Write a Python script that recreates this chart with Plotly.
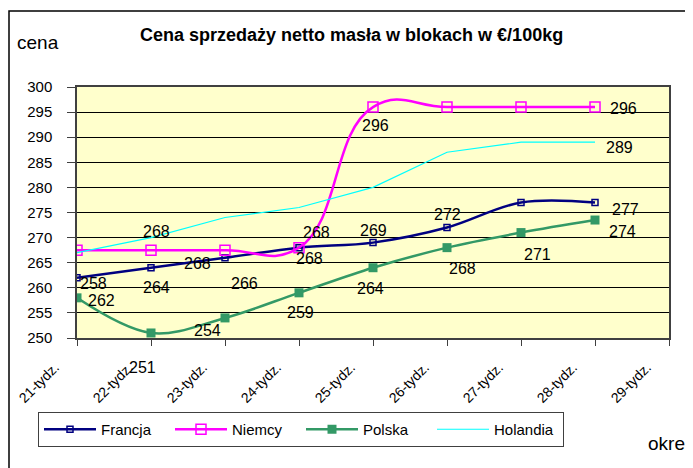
import plotly.graph_objects as go

weeks = ["21-tydz.", "22-tydz.", "23-tydz.", "24-tydz.", "25-tydz.",
         "26-tydz.", "27-tydz.", "28-tydz.", "29-tydz."]

francja = [262, 264, 266, 268, 269, 272, 277, 277]
niemcy = [267.5, 267.5, 267.5, 268, 296, 296, 296, 296]
polska = [258, 251, 254, 259, 264, 268, 271, 273.5]
holandia = [267, 270, 274, 276, 280, 287, 289, 289]

# data-label texts as printed on the chart (None = no label)
francja_lbl = ["258", "264", "266", "268", "269", "272", None, "277"]
niemcy_lbl = [None, "268", "268", "268", "296", None, None, "296"]
polska_lbl = ["262", "251", "254", "259", "264", "268", "271", "274"]
holandia_lbl = [None, None, None, None, None, None, None, "289"]

# label offsets in px (dx, dy-down)
francja_off = [(16, 6), (5, 20), (19, 26), (10, 11), (0, -12), (0, -13), None, (30, 7)]
niemcy_off = [None, (5, -19), (-28, 13), (17, -15), (2, 18), None, None, (28, 1)]
polska_off = [(24, 3), (-9, 35), (-18, 13), (1, 20), (-3, 21), (15, 21), (16, 22), (27, 11)]
holandia_off = [None, None, None, None, None, None, None, (24, 5)]

FONT = "Liberation Sans, Arial, sans-serif"
x = weeks[:8]

fig = go.Figure()
fig.add_trace(go.Scatter(
    x=x, y=francja, name="Francja", mode="lines+markers",
    line=dict(color="#000080", width=2.5, shape="spline", smoothing=1),
    marker=dict(symbol="square-open", size=6, color="#000080", line=dict(width=1.5))))
fig.add_trace(go.Scatter(
    x=x, y=niemcy, name="Niemcy", mode="lines+markers",
    line=dict(color="#FF00FF", width=2.5, shape="spline", smoothing=1.3),
    marker=dict(symbol="square-open", size=10, color="#FF00FF", line=dict(width=1.5))))
fig.add_trace(go.Scatter(
    x=x, y=polska, name="Polska", mode="lines+markers",
    line=dict(color="#339966", width=2.5, shape="spline", smoothing=1),
    marker=dict(symbol="square", size=9, color="#339966")))
fig.add_trace(go.Scatter(
    x=x, y=holandia, name="Holandia", mode="lines",
    line=dict(color="#00FFFF", width=1.2)))

annotations = []
for vals, lbls, offs in [(francja, francja_lbl, francja_off),
                         (niemcy, niemcy_lbl, niemcy_off),
                         (polska, polska_lbl, polska_off),
                         (holandia, holandia_lbl, holandia_off)]:
    for i, (v, t, o) in enumerate(zip(vals, lbls, offs)):
        if t is None:
            continue
        annotations.append(dict(x=x[i], y=v, text=t, showarrow=False,
                                xshift=o[0], yshift=-o[1],
                                font=dict(family=FONT, size=16, color="black")))

# page body has an 8px margin; layout below is expressed in reference pixels
OFF = 8
W, H = 693, 468
PL, PR, PT, PB = 77, 669, 87, 338   # plot area in reference pixels
L, T = PL - OFF, PT - OFF
R, B = W - (PR - OFF), H - (PB - OFF)
pw, ph = PR - PL, PB - PT


def px(xp):
    return (xp - PL) / pw


def py(yp):
    return (PB - yp) / ph


annotations += [
    dict(x=px(351), y=py(35), xref="paper", yref="paper",
         xanchor="center", yanchor="middle",
         text="<b>Cena sprzedaży netto masła w blokach w €/100kg</b>",
         showarrow=False, font=dict(family=FONT, size=18, color="black")),
    dict(x=px(15), y=py(43), xref="paper", yref="paper", text="cena",
         xanchor="left", yanchor="middle", showarrow=False,
         font=dict(family=FONT, size=19, color="black")),
    dict(x=px(646), y=py(443), xref="paper", yref="paper", text="okres",
         xanchor="left", yanchor="middle", showarrow=False,
         font=dict(family=FONT, size=19, color="black")),
]

fig.update_layout(
    width=W, height=H,
    margin=dict(l=L, r=R, t=T, b=B, autoexpand=False),
    paper_bgcolor="white",
    plot_bgcolor="#FFFFCC",
    font=dict(family=FONT, color="black"),
    showlegend=True,
    legend=dict(orientation="h", x=px(38), y=py(412), xanchor="left", yanchor="top",
                bgcolor="white", bordercolor="#404040", borderwidth=1,
                font=dict(family=FONT, size=15, color="black"),
                entrywidth=64, itemwidth=52, tracegroupgap=0),
    annotations=annotations,
    shapes=[dict(type="rect", xref="paper", yref="paper",
                 x0=px(9), y0=py(500), x1=px(730), y1=py(11),
                 line=dict(color="black", width=1.5), fillcolor="rgba(0,0,0,0)", layer="above")],
)

fig.update_xaxes(type="category", categoryorder="array", categoryarray=weeks,
                 range=[0, 8], showgrid=False, zeroline=False,
                 showline=True, linecolor="#404040", linewidth=1.5, mirror=True,
                 ticks="outside", ticklen=6, tickcolor="#404040",
                 ticklabelstandoff=8, ticklabelshift=-22,
                 tickangle=-45, tickfont=dict(family=FONT, size=14, color="black"))
fig.update_yaxes(range=[250, 300], dtick=5, showgrid=True, gridcolor="black", gridwidth=1,
                 zeroline=False, showline=True, linecolor="#404040", linewidth=1.5, mirror=True,
                 ticks="outside", ticklen=8, tickcolor="#404040", ticklabelstandoff=12,
                 tickfont=dict(family=FONT, size=15, color="black"))

fig.write_html("out.html")
